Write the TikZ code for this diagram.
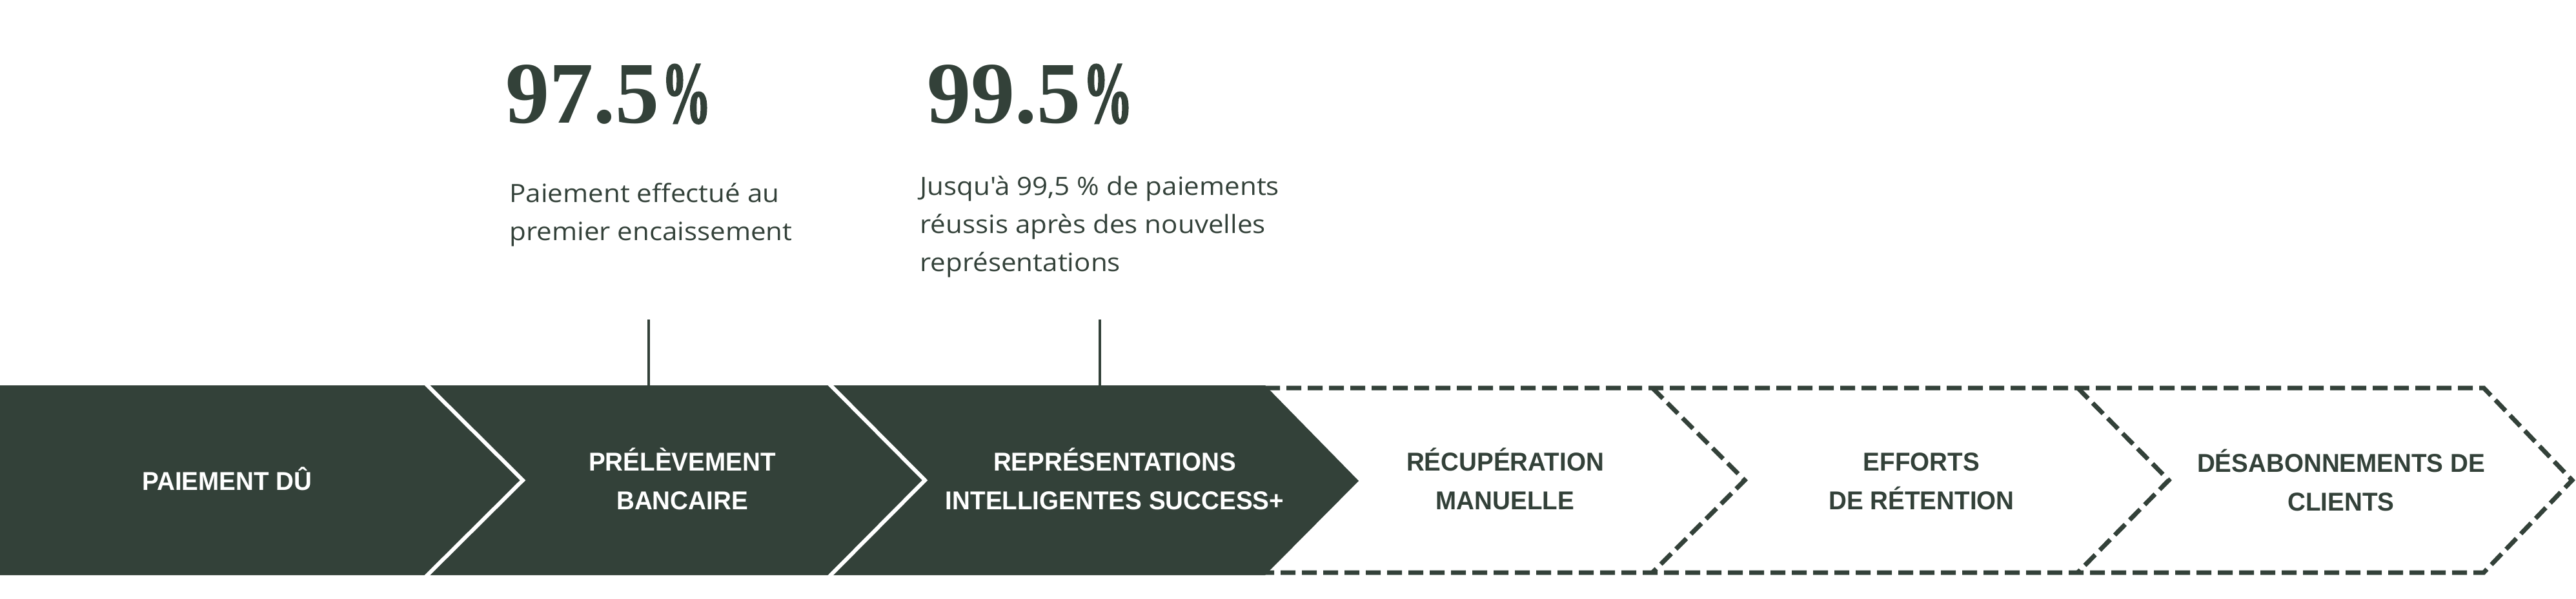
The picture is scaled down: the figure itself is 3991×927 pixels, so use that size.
\documentclass[tikz,border=0pt]{standalone}
\usepackage{fontspec}
\newfontfamily\numfont[FakeStretch=1.0]{Liberation Serif}
\newfontfamily\pctfont[FakeStretch=0.56,FakeBold=1.6]{Liberation Serif}
\newfontfamily\labfont[FakeStretch=0.965]{Liberation Sans}
\newfontfamily\descfont[FakeStretch=1.08]{Open Sans}
\definecolor{dk}{HTML}{334139}
\newcommand{\pctsign}{{\kern2pt\pctfont\bfseries\%}}
\begin{document}
\begin{tikzpicture}[x=0.5pt,y=-0.5pt,
  num/.style={inner sep=0, anchor=base west, text=dk, font=\numfont\bfseries\fontsize{68pt}{70pt}\selectfont},
  desc/.style={inner sep=0, anchor=base west, text=dk, font=\descfont\fontsize{19.5pt}{29.5pt}\selectfont},
  lab/.style={inner sep=0, anchor=base, font=\labfont\bfseries\fontsize{20pt}{30pt}\selectfont},
  labw/.style={lab, text=white},
  labd/.style={lab, text=dk},
  chev/.style={draw=white, line width=3pt},
  dashline/.style={draw=dk, line width=3.5pt, dash pattern=on 11.5pt off 5pt},
  tick/.style={draw=dk, line width=2pt}]
\useasboundingbox (0,0) rectangle (3991,927);
% dark band
\fill[dk] (0,597) -- (1960,597) -- (2105,745) -- (1960,891) -- (0,891) -- cycle;
% white chevron separators
\draw[chev] (655,590) -- (810,744) -- (655,898);
\draw[chev] (1280,590) -- (1433,744) -- (1280,898);
% dashed outline
\draw[dashline] (1960,601) -- (3848,601) -- (3985,744) -- (3848,887) -- (1960,887);
\draw[dashline] (2560,601) -- (2703,744) -- (2560,887);
\draw[dashline] (3219,601) -- (3360,744) -- (3219,887);
% labels
\node[labw] (l1) at (352,759) {PAIEMENT DÛ};
\node[labw] (l2) at (1057,729) {\begin{tabular}[t]{@{}c@{}}PRÉLÈVEMENT\\BANCAIRE\end{tabular}};
\node[labw] (l3) at (1727,729) {\begin{tabular}[t]{@{}c@{}}REPRÉSENTATIONS\\INTELLIGENTES SUCCESS+\end{tabular}};
\node[labd] (l4) at (2332,729) {\begin{tabular}[t]{@{}c@{}}RÉCUPÉRATION\\MANUELLE\end{tabular}};
\node[labd] (l5) at (2977,729) {\begin{tabular}[t]{@{}c@{}}EFFORTS\\DE RÉTENTION\end{tabular}};
\node[labd] (l6) at (3627,731) {\begin{tabular}[t]{@{}c@{}}DÉSABONNEMENTS DE\\CLIENTS\end{tabular}};
% stats
\node[num] (n1) at (783,190) {97.5\pctsign};
\node[num] (n2) at (1436,190) {99.5\pctsign};
\node[desc] (d1) at (789,313) {\begin{tabular}[t]{@{}l@{}}Paiement effectué au\\premier encaissement\end{tabular}};
\node[desc] (d2) at (1425,302) {\begin{tabular}[t]{@{}l@{}}Jusqu'à 99,5 \% de paiements\\réussis après des nouvelles\\représentations\end{tabular}};
% ticks
\coordinate (t1a) at (1005,495);
\coordinate (t1b) at (1005,597);
\coordinate (t2a) at (1704,495);
\coordinate (t2b) at (1704,597);
\draw[tick] (t1a) -- (t1b);
\draw[tick] (t2a) -- (t2b);
\end{tikzpicture}
\end{document}
